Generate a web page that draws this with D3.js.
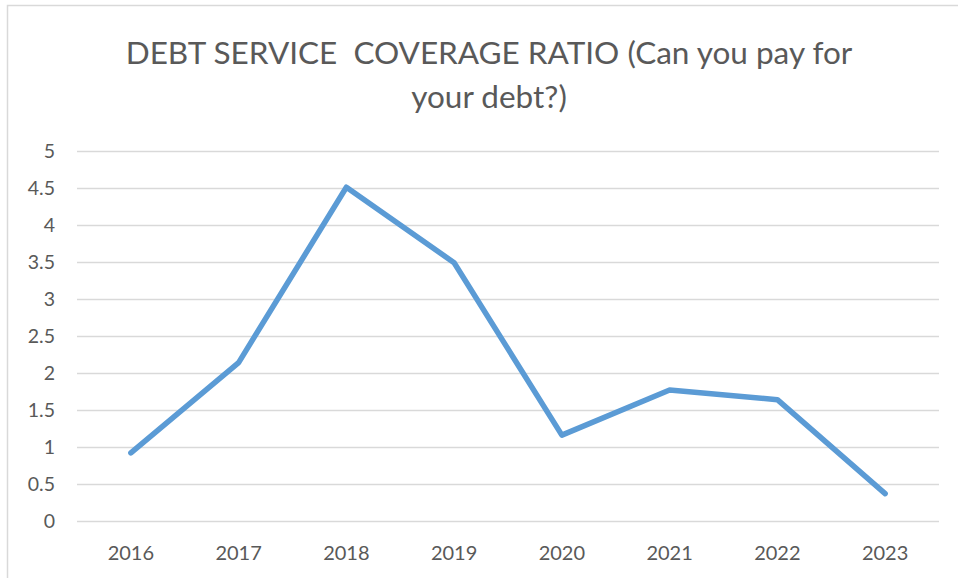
<!DOCTYPE html>
<html>
<head>
<meta charset="utf-8">
<script src="https://cdn.jsdelivr.net/npm/d3@7"></script>
<style>
  body { margin: 0; background: #fff; }
  text { font-family: Lato, "Open Sans", sans-serif; }
</style>
</head>
<body>
<div id="main"></div>
<script>
const layout = {
    width: 958,
    height: 578,
    marginTop: 151,
    marginLeft: 77,
    chartWidth: 862,
    chartHeight: 370
};

// chart values
const years = ["2016", "2017", "2018", "2019", "2020", "2021", "2022", "2023"];
const ratios = [0.92, 2.14, 4.51, 3.49, 1.16, 1.77, 1.64, 0.37];
const yTicks = [0, 0.5, 1, 1.5, 2, 2.5, 3, 3.5, 4, 4.5, 5];
const titleLines = ["DEBT SERVICE  COVERAGE RATIO (Can you pay for", "your debt?)"];

const svg = d3.select("#main").append("svg")
    .attr("width", layout.width)
    .attr("height", layout.height);

// chart area border
svg.append("rect")
    .attr("x", 7.5).attr("y", 5.5)
    .attr("width", 980).attr("height", 600)
    .attr("fill", "none")
    .attr("stroke", "#d9d9d9")
    .attr("stroke-width", 1.5);

const x = d3.scaleBand()
    .domain(years)
    .range([0, layout.chartWidth]);
const y = d3.scaleLinear()
    .domain([0, 5])
    .range([layout.chartHeight, 0]);

const plot = svg.append("g")
    .attr("transform", `translate(${layout.marginLeft},${layout.marginTop})`);

// gridlines + y labels
const yAxis = plot.append("g")
    .call(d3.axisLeft(y).tickValues(yTicks).tickSize(-layout.chartWidth).tickPadding(22).tickFormat(d => String(d)));
yAxis.select(".domain").remove();
yAxis.selectAll("line").attr("stroke", "#d9d9d9").attr("stroke-width", 1.5);
yAxis.selectAll("text").attr("fill", "#595959").attr("font-size", 19.5);

// x labels
const xAxis = plot.append("g")
    .attr("transform", `translate(0,${layout.chartHeight})`)
    .call(d3.axisBottom(x).tickSize(0).tickPadding(25));
xAxis.select(".domain").remove();
xAxis.selectAll("text").attr("fill", "#595959").attr("font-size", 20);

// series line
const line = d3.line()
    .x((d, i) => x(years[i]) + x.bandwidth() / 2)
    .y(d => y(d));
plot.append("path")
    .datum(ratios)
    .attr("d", line)
    .attr("fill", "none")
    .attr("stroke", "#5b9bd5")
    .attr("stroke-width", 5.5)
    .attr("stroke-linecap", "round")
    .attr("stroke-linejoin", "round");

// title (keep the double space)
svg.append("g").selectAll("text")
    .data(titleLines)
    .enter().append("text")
    .attr("x", 489)
    .attr("y", (d, i) => 64 + i * 44)
    .attr("text-anchor", "middle")
    .attr("font-size", 31.5)
    .attr("fill", "#595959")
    .style("white-space", "pre")
    .text(d => d);
</script>
</body>
</html>
